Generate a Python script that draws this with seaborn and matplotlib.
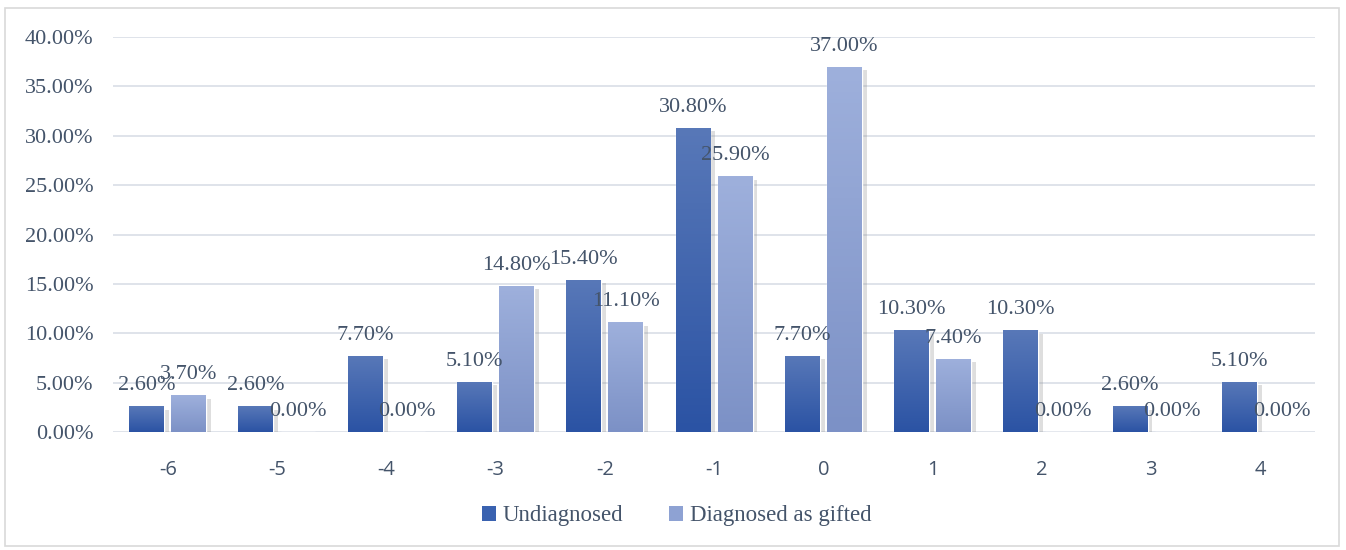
import numpy as np
import pandas as pd
import matplotlib
matplotlib.use("Agg")
import matplotlib.pyplot as plt
import matplotlib.patheffects as pe
from matplotlib.colors import LinearSegmentedColormap
from matplotlib.patches import Rectangle, Patch
from matplotlib.ticker import FuncFormatter
import seaborn as sns  # type: ignore

# datos
scores = ["-6", "-5", "-4", "-3", "-2", "-1", "0", "1", "2", "3", "4"]
undiagnosed = [0.026, 0.026, 0.077, 0.051, 0.154, 0.308, 0.077, 0.103, 0.103, 0.026, 0.051]
gifted = [0.037, 0.000, 0.000, 0.148, 0.111, 0.259, 0.370, 0.074, 0.000, 0.000, 0.000]
series = ["Undiagnosed", "Diagnosed as gifted"]

df = pd.DataFrame({
    "score": scores * 2,
    "pct": undiagnosed + gifted,
    "group": [series[0]] * len(scores) + [series[1]] * len(scores),
})

text_col = "#44546A"
grid_col = "#DCE1E8"
# degradados (arriba -> abajo)
grads = [("#5878B8", "#2B53A4"), ("#9EB0DC", "#7C91C6")]
mids = ["#3A62B0", "#8EA2D3"]

sns.set_style("white")
plt.rcParams["font.family"] = ["Liberation Serif", "DejaVu Serif"]

fig = plt.figure(figsize=(13.46, 5.5), dpi=100)
ax = fig.add_axes([0.084, 0.2145, 0.893, 0.7182])

sns.barplot(data=df, x="score", y="pct", hue="group", order=scores,
            hue_order=series, palette=mids, width=0.77, gap=0.17,
            legend=False, ax=ax, zorder=2)

ax.set_ylim(0, 0.40)
ax.set_yticks(np.arange(0, 0.401, 0.05))
ax.yaxis.set_major_formatter(FuncFormatter(lambda v, p: f"{v*100:.2f}%"))
ax.grid(axis="y", color=grid_col, linewidth=1.3)
ax.grid(axis="x", visible=False)
ax.set_axisbelow(True)
for s in ax.spines.values():
    s.set_visible(False)
ax.set_xlabel("")
ax.set_ylabel("")
ax.tick_params(axis="y", labelsize=16, labelcolor=text_col, length=0, pad=14)
ax.tick_params(axis="x", labelsize=14.5, labelcolor=text_col, length=0, pad=20)
for lbl in ax.get_xticklabels():
    lbl.set_family(["Open Sans", "DejaVu Sans"])

# relleno en degradado y sombra
xlim = ax.get_xlim()
for cont, (top, bot) in zip(ax.containers, grads):
    cmap = LinearSegmentedColormap.from_list("g", [bot, top])
    for bar in cont:
        h = bar.get_height()
        if h <= 0:
            continue
        bar.set_path_effects([pe.SimplePatchShadow(offset=(3.5, -2.5), shadow_rgbFace="#8A8A8A", alpha=0.28),
                              pe.Normal()])
        x0, w = bar.get_x(), bar.get_width()
        img = ax.imshow(np.linspace(0, 1, 100).reshape(-1, 1), cmap=cmap, origin="lower",
                        extent=[x0, x0 + w, 0, h], aspect="auto", zorder=2.5)
        img.set_clip_path(bar)
    labels = [f"{v*100:.2f}%" for v in cont.datavalues]
    ax.bar_label(cont, labels=labels, padding=8, fontsize=16, color=text_col, zorder=4)
ax.set_xlim(xlim)
ax.set_ylim(0, 0.40)

handles = [Patch(facecolor=c, edgecolor="none") for c in mids]
fig.legend(handles, series, loc="center", bbox_to_anchor=(0.503, 0.062), ncol=2,
           frameon=False, fontsize=16.5, handlelength=0.6, handleheight=0.6,
           handletextpad=0.3, columnspacing=2.0, labelcolor=text_col)

# marco exterior
fig.patches.append(Rectangle((0.004, 0.008), 0.991, 0.978, transform=fig.transFigure,
                             fill=False, edgecolor="#D9D9D9", linewidth=1.2))

fig.savefig("out.png", dpi=100)
